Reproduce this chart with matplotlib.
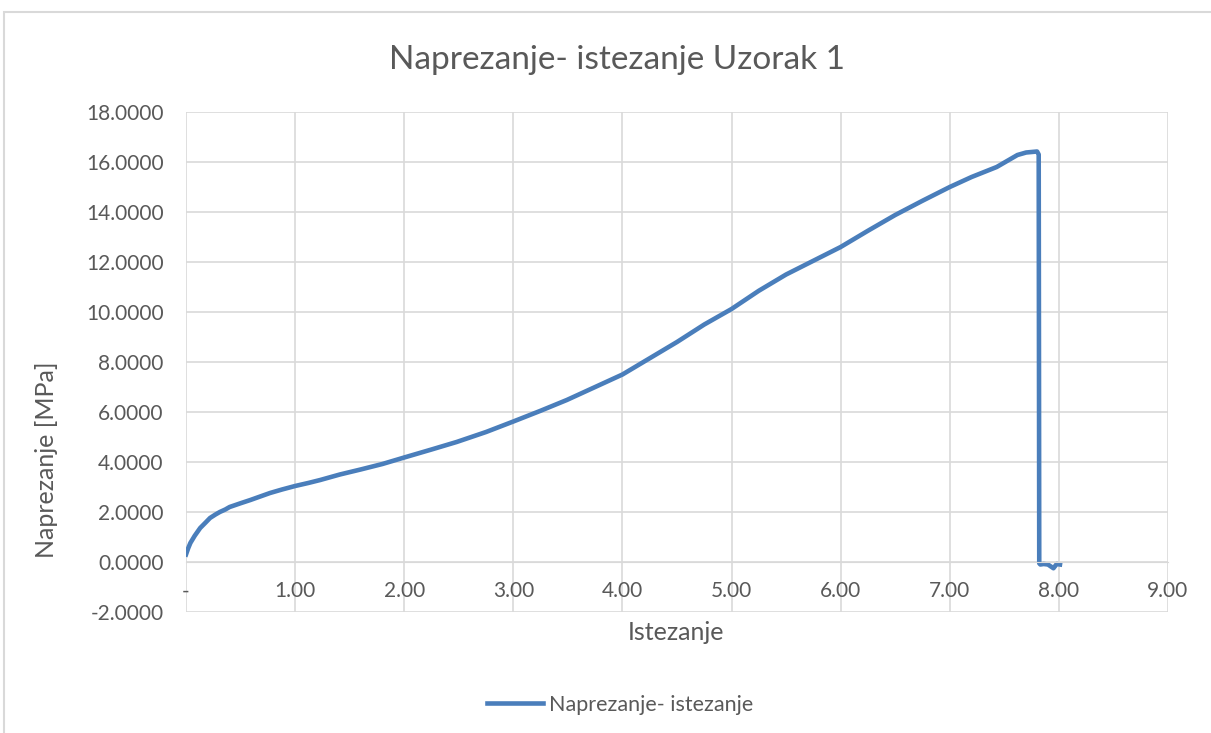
import matplotlib
matplotlib.use('Agg')
import matplotlib.pyplot as plt
from matplotlib.ticker import FuncFormatter
from matplotlib.patches import Rectangle

# --- Data ---
strain = [0.00, 0.02, 0.04, 0.08, 0.13, 0.18, 0.22, 0.27, 0.31, 0.36, 0.40, 0.50, 0.59,
          0.68, 0.77, 0.88, 1.00, 1.12, 1.23, 1.41, 1.60, 1.80, 2.00, 2.25, 2.48, 2.75,
          3.00, 3.25, 3.49, 3.80, 4.00, 4.25, 4.50, 4.75, 5.00, 5.25, 5.50, 5.75, 6.00,
          6.25, 6.50, 6.75, 7.00, 7.20, 7.43, 7.62, 7.70, 7.80, 7.815, 7.82, 7.83, 7.86,
          7.90, 7.95, 7.98, 8.01]
stress = [0.30, 0.55, 0.76, 1.05, 1.36, 1.58, 1.76, 1.90, 2.00, 2.10, 2.20, 2.35, 2.48,
          2.62, 2.76, 2.90, 3.04, 3.16, 3.28, 3.50, 3.70, 3.92, 4.18, 4.50, 4.80, 5.20,
          5.62, 6.05, 6.48, 7.10, 7.50, 8.15, 8.80, 9.50, 10.12, 10.85, 11.50, 12.05,
          12.60, 13.25, 13.88, 14.45, 15.00, 15.40, 15.80, 16.28, 16.38, 16.42, 16.30,
          -0.05, -0.10, -0.08, -0.10, -0.25, -0.08, -0.10]

xticks = [0, 1, 2, 3, 4, 5, 6, 7, 8, 9]
yticks = [-2, 0, 2, 4, 6, 8, 10, 12, 14, 16, 18]

grey = '#595959'
grid_c = '#d9d9d9'
blue = '#4a7ebb'

plt.rcParams['font.family'] = ['Lato', 'DejaVu Sans']

fig = plt.figure(figsize=(12.11, 7.33), dpi=100)
ax = fig.add_axes([186 / 1211, 1 - 612 / 733, (1168 - 186) / 1211, (612 - 112) / 733])

# chart area border
fig.patches.append(Rectangle((4 / 1211, -0.01), 1.2, 1 - 12 / 733 + 0.01,
                             transform=fig.transFigure, fill=False,
                             edgecolor=grid_c, linewidth=1.5))

ax.plot(strain, stress, color=blue, linewidth=3.3, label='Naprezanje- istezanje',
        solid_joinstyle='round')

ax.set_xlim(0, 9)
ax.set_ylim(-2, 18)
ax.set_xticks(xticks)
ax.set_yticks(yticks)
ax.xaxis.set_major_formatter(FuncFormatter(lambda v, p: '-' if v == 0 else f'{v:.2f}'))
ax.yaxis.set_major_formatter(FuncFormatter(lambda v, p: f'{v:.4f}'))
ax.grid(True, color=grid_c, linewidth=1.2)
ax.set_axisbelow(True)

for s in ['top', 'right', 'left']:
    ax.spines[s].set_visible(False)
ax.spines['bottom'].set_position(('data', 0))
ax.spines['bottom'].set_color(grid_c)
ax.tick_params(length=0, labelsize=15, colors=grey)
ax.tick_params(axis='x', pad=14)
ax.tick_params(axis='y', pad=16)

fig.text(676 / 1211, 1 - 633 / 733, 'Istezanje', fontsize=18, color=grey,
         ha='center', va='center')
fig.text(47 / 1211, 1 - 460 / 733, 'Naprezanje [MPa]', fontsize=18, color=grey,
         ha='center', va='center', rotation=90)
fig.text(617 / 1211, 1 - 60 / 733, 'Naprezanje- istezanje Uzorak 1', fontsize=24,
         color=grey, ha='center', va='center')

fig.legend(loc='center', bbox_to_anchor=(620 / 1211, 1 - 705 / 733), frameon=False,
           fontsize=15.5, labelcolor=grey, handlelength=2.6, handletextpad=0.3)

fig.savefig('out.png', dpi=100)
